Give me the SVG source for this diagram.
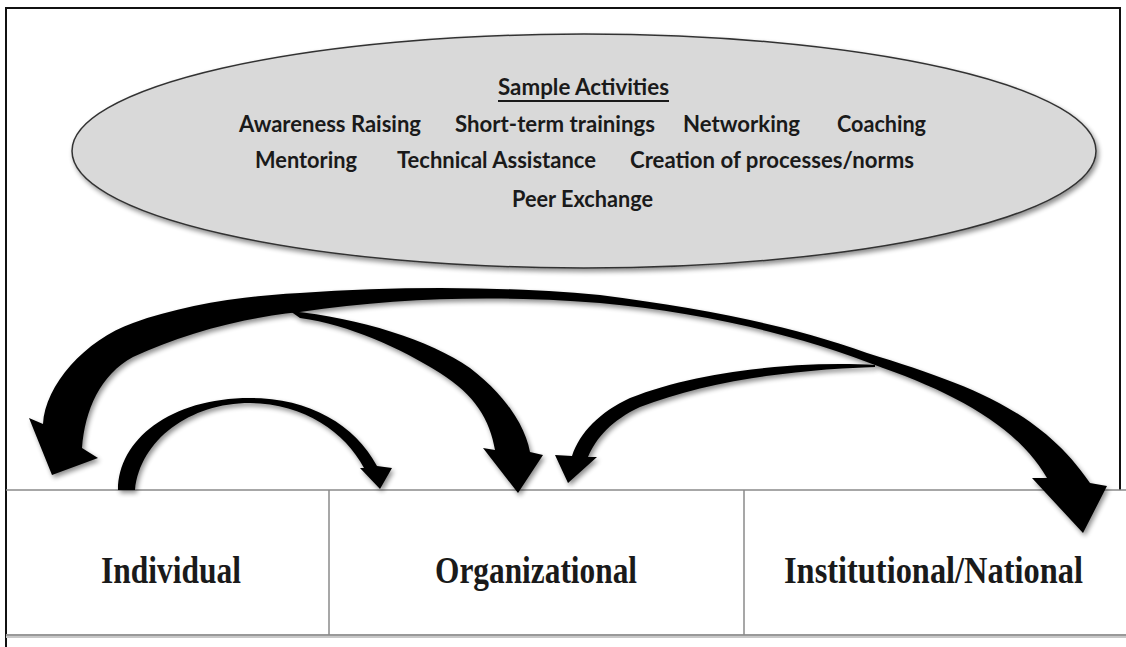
<svg xmlns="http://www.w3.org/2000/svg" width="1126" height="647" viewBox="0 0 1126 647">
  <defs>
    <filter id="shadow" x="-10%" y="-10%" width="130%" height="130%">
      <feGaussianBlur in="SourceAlpha" stdDeviation="2.5"/>
      <feOffset dx="2" dy="3" result="b"/>
      <feComponentTransfer><feFuncA type="linear" slope="0.45"/></feComponentTransfer>
      <feMerge><feMergeNode/><feMergeNode in="SourceGraphic"/></feMerge>
    </filter>
    <style>
      .act { font-family: Lato, "Open Sans", "Liberation Sans", sans-serif; font-weight: bold; font-size: 23px; fill: #1a1a1a; }
      .lvl { font-family: "Liberation Serif", "DejaVu Serif", serif; font-weight: bold; font-size: 38px; fill: #1a1a1a; }
      .arrow { fill: #000; filter: url(#shadow); }
      .grid { stroke: #8a8a8a; stroke-width: 1.5; fill: none; }
    </style>
  </defs>
  <rect x="0" y="0" width="1126" height="647" fill="#ffffff"/>
  <!-- outer frame -->
  <path d="M6,647 L6,8 L1120,8 L1120,490" fill="none" stroke="#111" stroke-width="2"/>

  <g id="sample-activities">
    <ellipse cx="584" cy="151" rx="512" ry="117" fill="#d9d9d9" stroke="#333" stroke-width="1.5" filter="url(#shadow)"/>
    <text class="act" x="498" y="95" textLength="171" lengthAdjust="spacingAndGlyphs">Sample Activities</text>
    <line x1="498" y1="101" x2="669" y2="101" stroke="#1a1a1a" stroke-width="2"/>
    <text class="act" x="239" y="132" textLength="182" lengthAdjust="spacingAndGlyphs">Awareness Raising</text>
    <text class="act" x="455" y="132" textLength="200" lengthAdjust="spacingAndGlyphs">Short-term trainings</text>
    <text class="act" x="683" y="132" textLength="117" lengthAdjust="spacingAndGlyphs">Networking</text>
    <text class="act" x="837" y="132" textLength="89" lengthAdjust="spacingAndGlyphs">Coaching</text>
    <text class="act" x="255" y="168" textLength="102" lengthAdjust="spacingAndGlyphs">Mentoring</text>
    <text class="act" x="397" y="168" textLength="199" lengthAdjust="spacingAndGlyphs">Technical Assistance</text>
    <text class="act" x="630" y="168" textLength="284" lengthAdjust="spacingAndGlyphs">Creation of processes/norms</text>
    <text class="act" x="512" y="207" textLength="141" lengthAdjust="spacingAndGlyphs">Peer Exchange</text>
  </g>

  <!-- table -->
  <g id="table-lines">
    <line class="grid" x1="6" y1="490" x2="1126" y2="490"/>
    <line x1="6" y1="636" x2="1126" y2="636" stroke="#c8c8c8" stroke-width="4"/>
    <line x1="6" y1="635" x2="1126" y2="635" stroke="#8a8a8a" stroke-width="1.5"/>
  </g>
  <g id="individual">
    <text class="lvl" transform="translate(101,583) scale(0.83,1)" x="0" y="0" textLength="168.7" lengthAdjust="spacingAndGlyphs">Individual</text>
  </g>
  <g id="organizational">
    <line class="grid" x1="329" y1="490" x2="329" y2="635"/>
    <text class="lvl" transform="translate(435,583) scale(0.83,1)" x="0" y="0" textLength="243.4" lengthAdjust="spacingAndGlyphs">Organizational</text>
  </g>
  <g id="institutional-national">
    <line class="grid" x1="744" y1="490" x2="744" y2="635"/>
    <text class="lvl" transform="translate(784,583) scale(0.83,1)" x="0" y="0" textLength="360.2" lengthAdjust="spacingAndGlyphs">Institutional/National</text>
  </g>

  <g id="connectors">
    <path class="arrow" d="M43,424 C45,385 85,340 133,323 C180,306 240,296 300,293 C400,286 500,286 600,295 C700,308 790,325 867,353 C970,385 1040,410 1090,483 L1107,486 L1083,533 L1032,478 L1047,478 C1020,430 960,395 883,368 C800,335 700,312 600,303 C500,295 400,297 300,312 C240,318 180,335 133,357 C100,375 85,410 82,448 L98,458 L52,475 L29,418 Z"/>
    <path class="arrow" d="M290,311 C360,318 430,340 470,368 C505,395 525,425 530,452 L543,455 L518,493 L483,448 L495,450 C490,420 475,395 440,373 C400,348 350,325 300,318 Z"/>
    <path class="arrow" d="M875,365 C800,361 700,370 630,398 C600,412 580,432 572,456 L555,455 L568,483 L597,457 L588,457 C596,438 612,420 640,407 C700,384 780,370 875,367 Z"/>
    <path class="arrow" d="M118,490 C118,440 170,398 250,398 C310,398 355,425 377,466 L392,468 L380,489 L360,468 L364,468 C345,432 305,404 250,403 C190,403 140,440 135,490 Z"/>
  </g>
</svg>
